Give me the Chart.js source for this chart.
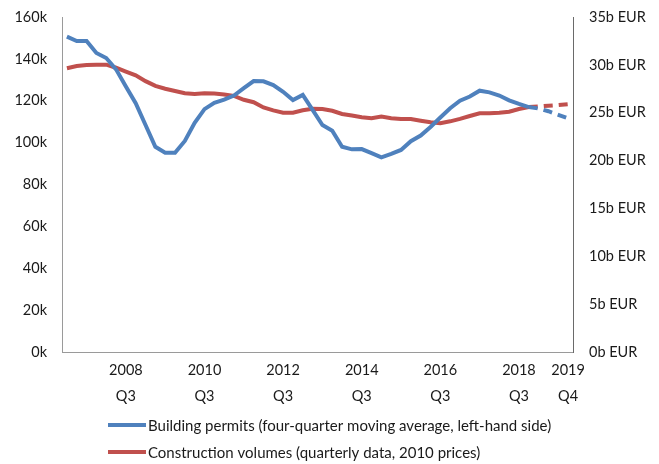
<!DOCTYPE html>
<html>
<head>
<meta charset="utf-8">
<script src="https://cdn.jsdelivr.net/npm/chart.js@4.4.1/dist/chart.umd.min.js"></script>
<style>
  html, body { margin: 0; padding: 0; background: #fff; }
  #wrap { width: 659px; height: 464px; }
</style>
</head>
<body>
<div id="wrap"><canvas id="chart"></canvas></div>
<script>
// Quarters on the x axis, 2007 Q1 .. 2019 Q4
const quarters = [
  '2007 Q1', '2007 Q2', '2007 Q3', '2007 Q4',
  '2008 Q1', '2008 Q2', '2008 Q3', '2008 Q4',
  '2009 Q1', '2009 Q2', '2009 Q3', '2009 Q4',
  '2010 Q1', '2010 Q2', '2010 Q3', '2010 Q4',
  '2011 Q1', '2011 Q2', '2011 Q3', '2011 Q4',
  '2012 Q1', '2012 Q2', '2012 Q3', '2012 Q4',
  '2013 Q1', '2013 Q2', '2013 Q3', '2013 Q4',
  '2014 Q1', '2014 Q2', '2014 Q3', '2014 Q4',
  '2015 Q1', '2015 Q2', '2015 Q3', '2015 Q4',
  '2016 Q1', '2016 Q2', '2016 Q3', '2016 Q4',
  '2017 Q1', '2017 Q2', '2017 Q3', '2017 Q4',
  '2018 Q1', '2018 Q2', '2018 Q3', '2018 Q4',
  '2019 Q1', '2019 Q2', '2019 Q3', '2019 Q4'
];

// Labelled quarters
const shownTicks = ['2008 Q3', '2010 Q3', '2012 Q3', '2014 Q3', '2016 Q3', '2018 Q3', '2019 Q4'];

// Building permits, four-quarter moving average (left axis)
const permits = [
  150600, 148500, 148500, 142800, 140400, 135000, 126800, 118800,
  108400, 98000, 95200, 95200, 100800, 109500, 116000, 119000,
  120500, 122500, 126000, 129400, 129300, 127500, 124300, 120300,
  122800, 115600, 108400, 105700, 98000, 96800, 96900, 95000,
  93000, 94600, 96500, 100700, 103400, 107500, 112000, 116400,
  120000, 122000, 124800, 124000, 122500, 120200, 118500, 117000,
  116300, 115000, 113300, 111600
];

// Construction volumes, b EUR in 2010 prices (right axis)
const volumes = [
  29.65, 29.88, 29.98, 30.00, 30.02, 29.70, 29.30, 28.90,
  28.30, 27.80, 27.50, 27.27, 27.03, 26.96, 27.03, 27.00,
  26.90, 26.75, 26.35, 26.10, 25.55, 25.25, 25.00, 25.00,
  25.25, 25.42, 25.39, 25.20, 24.87, 24.70, 24.52, 24.42,
  24.59, 24.42, 24.35, 24.35, 24.17, 24.00, 23.90, 24.10,
  24.35, 24.66, 24.94, 24.94, 25.00, 25.10, 25.39, 25.60,
  25.65, 25.73, 25.80, 25.90
];

// last actual quarter; everything after it is drawn dashed
const lastActual = 47;

const FONT = 'Lato, "Noto Sans", sans-serif';
const TEXT = '#1a1a1a';

const dashAfter = ctx => ctx.p0DataIndex >= lastActual ? [9, 6] : undefined;

// legend stacked and left aligned, like the original
const stackedLegend = {
  id: 'stackedLegend',
  afterDraw(chart) {
    const ctx = chart.ctx;
    const rows = [chart.height - 39, chart.height - 12];
    ctx.save();
    ctx.font = '15px ' + FONT;
    ctx.textBaseline = 'middle';
    chart.data.datasets.forEach((ds, i) => {
      const y = rows[i];
      ctx.strokeStyle = ds.borderColor;
      ctx.lineWidth = 4;
      ctx.beginPath();
      ctx.moveTo(108, y);
      ctx.lineTo(146, y);
      ctx.stroke();
      ctx.fillStyle = TEXT;
      ctx.fillText(ds.label, 148, y + 1);
    });
    ctx.restore();
  }
};

// fixed axis widths; drop the tick padding chart.js adds above the top label
const fitY = w => s => { s.width = w; s.paddingTop = 0; };

new Chart(document.getElementById('chart'), {
  type: 'line',
  data: {
    labels: quarters,
    datasets: [
      {
        label: 'Building permits (four-quarter moving average, left-hand side)',
        data: permits,
        yAxisID: 'y',
        borderColor: '#4f81bd',
        borderWidth: 4,
        pointRadius: 0,
        tension: 0,
        segment: { borderDash: dashAfter }
      },
      {
        label: 'Construction volumes (quarterly data, 2010 prices)',
        data: volumes,
        yAxisID: 'y1',
        borderColor: '#c0504d',
        borderWidth: 4,
        pointRadius: 0,
        tension: 0,
        segment: { borderDash: dashAfter }
      }
    ]
  },
  options: {
    responsive: true,
    maintainAspectRatio: false,
    animation: false,
    layout: { padding: { top: 17, bottom: 52, left: 0, right: 0 } },
    plugins: {
      legend: { display: false },
      tooltip: { enabled: false }
    },
    scales: {
      x: {
        offset: true,
        grid: { display: false, drawTicks: false },
        border: { display: true, color: '#9a9a9a', width: 1 },
        afterFit: s => { s.height = 60; },
        ticks: {
          autoSkip: false,
          maxRotation: 0,
          padding: 6,
          color: TEXT,
          font: { family: FONT, size: 14.5, lineHeight: 1.75 },
          callback: function (value) {
            const lab = this.getLabelForValue(value);
            return shownTicks.includes(lab) ? lab.split(' ') : '';
          }
        }
      },
      y: {
        position: 'left',
        min: 0,
        max: 160000,
        grid: { display: false, drawTicks: false },
        border: { display: true, color: '#9a9a9a', width: 1 },
        afterFit: fitY(62),
        ticks: {
          stepSize: 20000,
          padding: 15,
          color: TEXT,
          font: { family: FONT, size: 14.5 },
          callback: v => (v / 1000) + 'k'
        }
      },
      y1: {
        position: 'right',
        min: 0,
        max: 35,
        grid: { display: false, drawTicks: false },
        border: { display: true, color: '#6a6a6a', width: 1 },
        afterFit: fitY(86),
        ticks: {
          stepSize: 5,
          padding: 16,
          color: TEXT,
          font: { family: FONT, size: 14.5 },
          callback: v => v + 'b EUR'
        }
      }
    }
  },
  plugins: [stackedLegend]
});
</script>
</body>
</html>
